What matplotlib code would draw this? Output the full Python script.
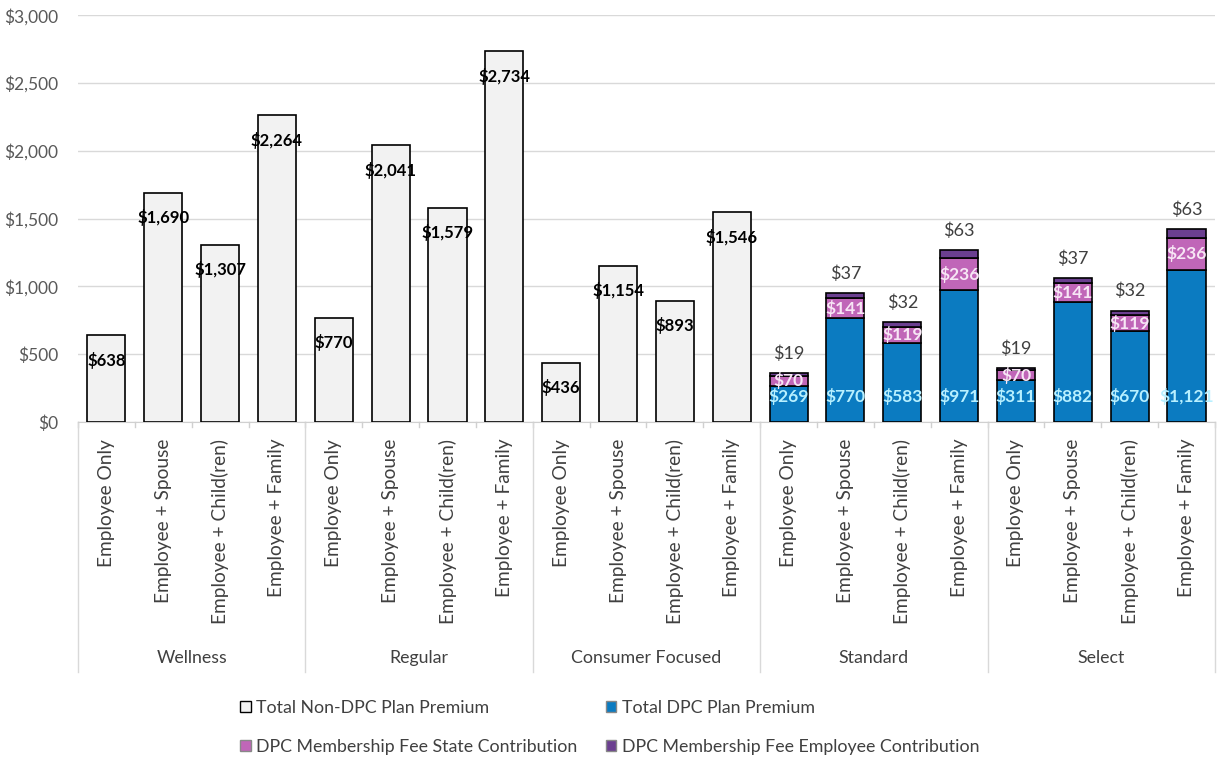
import matplotlib
matplotlib.use("Agg")
import matplotlib.pyplot as plt
from matplotlib.patches import Patch
import numpy as np

plt.rcParams['font.family'] = ['Lato', 'DejaVu Sans']

groups = ['Wellness', 'Regular', 'Consumer Focused', 'Standard', 'Select']
tiers = ['Employee Only', 'Employee + Spouse', 'Employee + Child(ren)', 'Employee + Family']

non_dpc = {
    'Wellness': [638, 1690, 1307, 2264],
    'Regular': [770, 2041, 1579, 2734],
    'Consumer Focused': [436, 1154, 893, 1546],
}
dpc_premium = {
    'Standard': [269, 770, 583, 971],
    'Select': [311, 882, 670, 1121],
}
state_fee = [70, 141, 119, 236]
employee_fee = [19, 37, 32, 63]

c_grey = '#f2f2f2'
c_blue = '#0b7bc1'
c_pink = '#c066b8'
c_purple = '#6b3f90'

fig = plt.figure(figsize=(12.25, 7.61), dpi=100)
ax = fig.add_axes([0.0637, 0.4455, 0.9281, 0.5345])

n = len(tiers)
w = 0.67
for gi, g in enumerate(groups):
    x = np.arange(n) + gi * n
    if g in non_dpc:
        vals = non_dpc[g]
        ax.bar(x, vals, w, color=c_grey, edgecolor='black', linewidth=1.2, zorder=3)
        for xi, v in zip(x, vals):
            ax.annotate(f'${v:,}', (xi, v), xytext=(0, -18), textcoords='offset points',
                        ha='center', va='center', fontsize=12, fontweight='bold', color='black', zorder=5)
    else:
        base = dpc_premium[g]
        mid = [b + s for b, s in zip(base, state_fee)]
        ax.bar(x, base, w, color=c_blue, edgecolor='black', linewidth=1.2, zorder=3)
        ax.bar(x, state_fee, w, bottom=base, color=c_pink, edgecolor='black', linewidth=1.2, zorder=3)
        ax.bar(x, employee_fee, w, bottom=mid, color=c_purple, edgecolor='black', linewidth=1.2, zorder=3)
        for xi, b, s, e in zip(x, base, state_fee, employee_fee):
            ax.annotate(f'${b:,}', (xi, 0), xytext=(0, 18), textcoords='offset points',
                        ha='center', va='center', fontsize=12.5, fontweight='bold', color='#b8f0ff', zorder=5)
            ax.text(xi, b + s / 2, f'${s:,}', ha='center', va='center', fontsize=12.5,
                    fontweight='bold', color='#f7e6f5', zorder=5)
            ax.annotate(f'${e:,}', (xi, b + s + e), xytext=(0, 14), textcoords='offset points',
                        ha='center', va='center', fontsize=13, color='#404040', zorder=5)

total = n * len(groups)
ax.set_xlim(-0.5, total - 0.5)
ax.set_ylim(0, 3000)
ax.set_yticks(np.arange(0, 3001, 500))
ax.set_yticklabels([f'${v:,}' for v in range(0, 3001, 500)], fontsize=12.5, color='#595959')
ax.yaxis.grid(True, color='#d9d9d9', linewidth=1, zorder=0)
ax.tick_params(axis='y', length=0, pad=14)
for s in ['top', 'right', 'left']:
    ax.spines[s].set_visible(False)
ax.spines['bottom'].set_color('#d0d0d0')

ax.set_xticks(np.arange(total))
ax.set_xticklabels(tiers * len(groups), rotation=90, fontsize=13.8, color='#404040', va='top')
ax.tick_params(axis='x', length=0, pad=12)

# small ticks between categories
trans = ax.get_xaxis_transform()
for b in np.arange(total + 1) - 0.5:
    ax.plot([b, b], [0, -0.012], transform=trans, color='#d0d0d0', linewidth=1, clip_on=False)
# group separators and labels
for gi in range(len(groups) + 1):
    b = gi * n - 0.5
    ax.plot([b, b], [0, -0.615], transform=trans, color='#d9d9d9', linewidth=1, clip_on=False)
for gi, g in enumerate(groups):
    ax.text(gi * n + (n - 1) / 2, -0.58, g, transform=trans, ha='center', va='center',
            fontsize=12.8, color='#404040')

handles = [
    Patch(facecolor=c_grey, edgecolor='black', label='Total Non-DPC Plan Premium'),
    Patch(facecolor=c_pink, edgecolor='#888888', label='DPC Membership Fee State Contribution'),
    Patch(facecolor=c_blue, edgecolor='#888888', label='Total DPC Plan Premium'),
    Patch(facecolor=c_purple, edgecolor='#888888', label='DPC Membership Fee Employee Contribution'),
]
fig.legend(handles=handles, ncol=2, loc='lower left', bbox_to_anchor=(0.196, 0.008),
           frameon=False, fontsize=12.8, handlelength=0.6, handleheight=0.6, handletextpad=0.3,
           columnspacing=1.6, labelspacing=1.3, labelcolor='#404040',
           borderpad=0, borderaxespad=0)

fig.savefig('out.png', dpi=100, facecolor='white')
